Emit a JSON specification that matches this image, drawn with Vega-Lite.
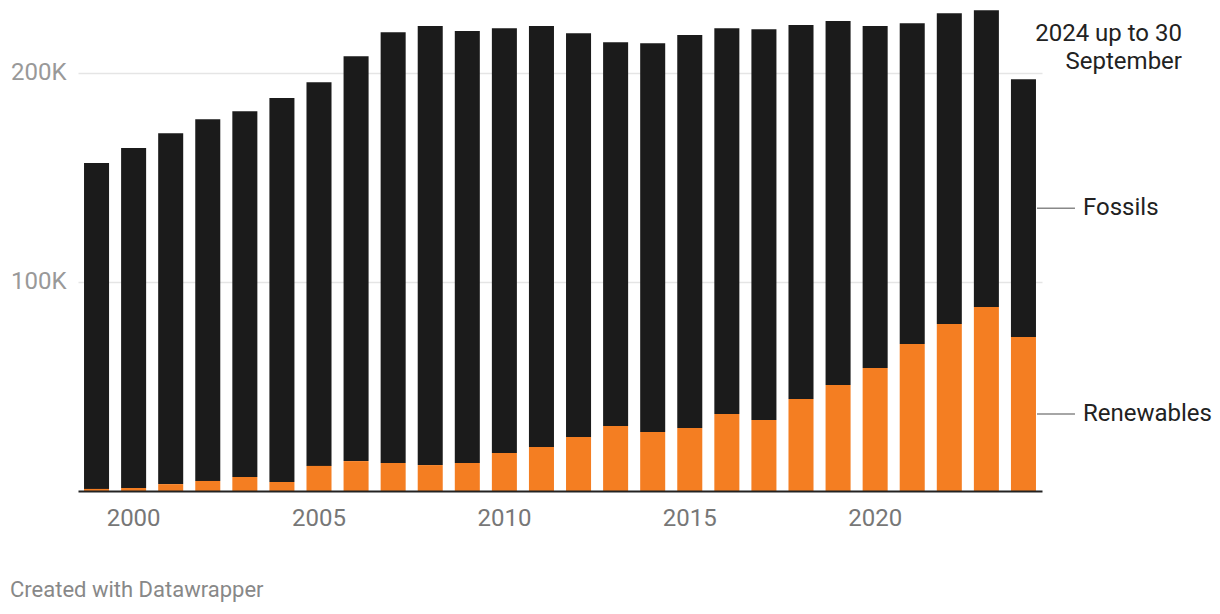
{
  "$schema": "https://vega.github.io/schema/vega-lite/v6.json",
  "width": 964,
  "height": 481,
  "autosize": {"type": "none"},
  "padding": {"left": 78, "top": 10, "right": 178, "bottom": 123},
  "background": "white",
  "config": {"font": "Roboto", "view": {"stroke": null}},
  "title": {"text": "Created with Datawrapper", "orient": "bottom", "anchor": "start", "frame": "group", "dx": -68, "offset": 50, "fontSize": 22, "fontWeight": "normal", "color": "#888888", "font": "Roboto"},
  "datasets": {
    "energy": [
      {"year": 1999, "source": "Fossils", "value": 155800}, {"year": 1999, "source": "Renewables", "value": 1000},
      {"year": 2000, "source": "Fossils", "value": 162600}, {"year": 2000, "source": "Renewables", "value": 1400},
      {"year": 2001, "source": "Fossils", "value": 167800}, {"year": 2001, "source": "Renewables", "value": 3300},
      {"year": 2002, "source": "Fossils", "value": 173000}, {"year": 2002, "source": "Renewables", "value": 4800},
      {"year": 2003, "source": "Fossils", "value": 174900}, {"year": 2003, "source": "Renewables", "value": 6700},
      {"year": 2004, "source": "Fossils", "value": 183600}, {"year": 2004, "source": "Renewables", "value": 4300},
      {"year": 2005, "source": "Fossils", "value": 183500}, {"year": 2005, "source": "Renewables", "value": 12000},
      {"year": 2006, "source": "Fossils", "value": 193600}, {"year": 2006, "source": "Renewables", "value": 14300},
      {"year": 2007, "source": "Fossils", "value": 206000}, {"year": 2007, "source": "Renewables", "value": 13400},
      {"year": 2008, "source": "Fossils", "value": 209900}, {"year": 2008, "source": "Renewables", "value": 12400},
      {"year": 2009, "source": "Fossils", "value": 206500}, {"year": 2009, "source": "Renewables", "value": 13400},
      {"year": 2010, "source": "Fossils", "value": 203100}, {"year": 2010, "source": "Renewables", "value": 18200},
      {"year": 2011, "source": "Fossils", "value": 201300}, {"year": 2011, "source": "Renewables", "value": 21000},
      {"year": 2012, "source": "Fossils", "value": 193100}, {"year": 2012, "source": "Renewables", "value": 25800},
      {"year": 2013, "source": "Fossils", "value": 183500}, {"year": 2013, "source": "Renewables", "value": 31100},
      {"year": 2014, "source": "Fossils", "value": 185900}, {"year": 2014, "source": "Renewables", "value": 28200},
      {"year": 2015, "source": "Fossils", "value": 187900}, {"year": 2015, "source": "Renewables", "value": 30100},
      {"year": 2016, "source": "Fossils", "value": 184500}, {"year": 2016, "source": "Renewables", "value": 36800},
      {"year": 2017, "source": "Fossils", "value": 186900}, {"year": 2017, "source": "Renewables", "value": 33900},
      {"year": 2018, "source": "Fossils", "value": 178800}, {"year": 2018, "source": "Renewables", "value": 44000},
      {"year": 2019, "source": "Fossils", "value": 174000}, {"year": 2019, "source": "Renewables", "value": 50700},
      {"year": 2020, "source": "Fossils", "value": 163500}, {"year": 2020, "source": "Renewables", "value": 58800},
      {"year": 2021, "source": "Fossils", "value": 153400}, {"year": 2021, "source": "Renewables", "value": 70300},
      {"year": 2022, "source": "Fossils", "value": 148700}, {"year": 2022, "source": "Renewables", "value": 79800},
      {"year": 2023, "source": "Fossils", "value": 141900}, {"year": 2023, "source": "Renewables", "value": 88000},
      {"year": 2024, "source": "Fossils", "value": 123300}, {"year": 2024, "source": "Renewables", "value": 73600}
    ],
    "note": [{"year": 2024, "label": ["2024 up to 30", "September"]}]
  },
  "layer": [
    {
      "data": {"name": "energy"},
      "mark": {"type": "bar"},
      "encoding": {
        "x": {"field": "year", "type": "ordinal",
          "scale": {"paddingInner": 0.325, "paddingOuter": 0.1625},
          "axis": {"values": [2000, 2005, 2010, 2015, 2020], "title": null, "labelAngle": 0, "ticks": false, "grid": false, "domainColor": "#222222", "domainWidth": 2, "labelFontSize": 24, "labelColor": "#777777", "labelPadding": 15, "zindex": 1, "labelFont": "Roboto"}},
        "y": {"field": "value", "type": "quantitative", "stack": "zero",
          "scale": {"domain": [0, 230000], "nice": false},
          "axis": {"values": [100000, 200000], "labelExpr": "datum.value / 1000 + 'K'", "title": null, "domain": false, "ticks": false, "gridColor": "#e5e5e5", "gridWidth": 1.5, "labelFontSize": 24, "labelColor": "#999999", "labelPadding": 12, "labelFont": "Roboto"}},
        "color": {"field": "source", "type": "nominal", "scale": {"domain": ["Fossils", "Renewables"], "range": ["#1b1b1b", "#f47e22"]}, "legend": null},
        "order": {"field": "source", "sort": "descending"}
      }
    },
    {
      "data": {"name": "energy"},
      "transform": [
        {"filter": "datum.year == 2024"},
        {"stack": "value", "groupby": ["year"], "sort": [{"field": "source", "order": "descending"}], "as": ["v0", "v1"]},
        {"calculate": "(datum.v0 + datum.v1) / 2", "as": "mid"}
      ],
      "layer": [
        {
          "mark": {"type": "rule", "color": "#888888", "strokeWidth": 1.5, "xOffset": 1, "x2Offset": 39},
          "encoding": {
            "x": {"field": "year", "type": "ordinal", "bandPosition": 1},
            "x2": {"field": "year", "bandPosition": 1},
            "y": {"field": "mid", "type": "quantitative"}
          }
        },
        {
          "mark": {"type": "text", "align": "left", "baseline": "middle", "dx": 47, "fontSize": 24, "color": "#222222", "font": "Roboto"},
          "encoding": {
            "x": {"field": "year", "type": "ordinal", "bandPosition": 1},
            "y": {"field": "mid", "type": "quantitative"},
            "text": {"field": "source"}
          }
        }
      ]
    },
    {
      "data": {"name": "note"},
      "mark": {"type": "text", "align": "right", "baseline": "top", "dx": 146, "dy": 12, "lineHeight": 28, "fontSize": 24, "color": "#222222", "font": "Roboto"},
      "encoding": {
        "x": {"field": "year", "type": "ordinal", "bandPosition": 1},
        "y": {"datum": 230000, "type": "quantitative"},
        "text": {"field": "label"}
      }
    }
  ]
}
